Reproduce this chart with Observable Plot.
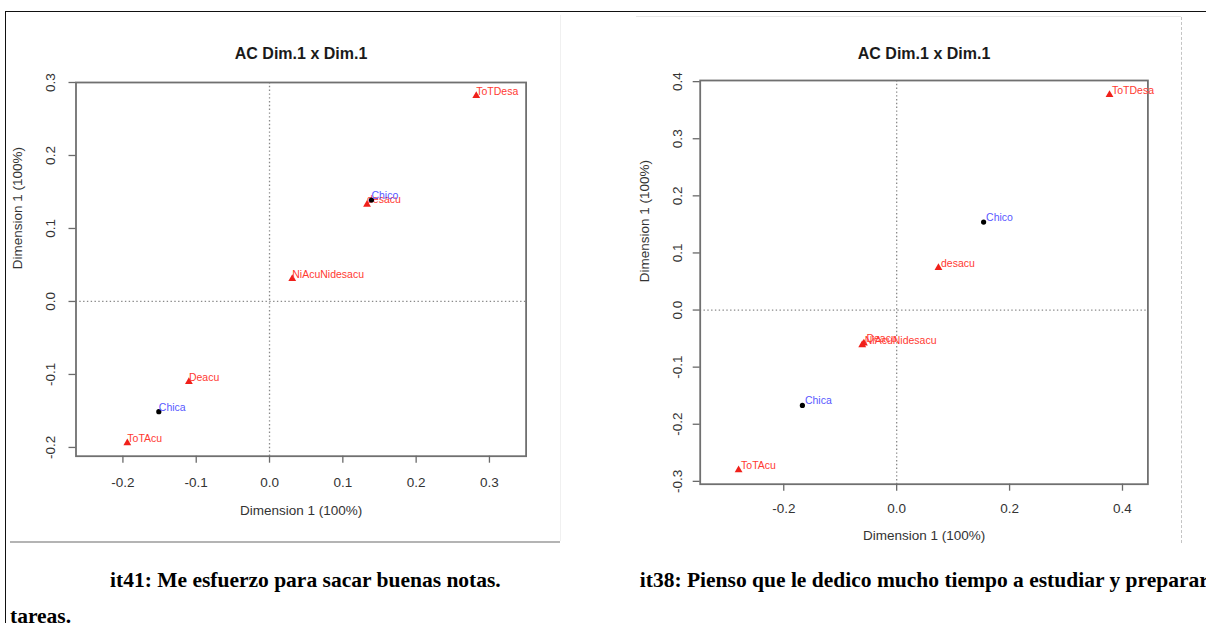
<!DOCTYPE html>
<html>
<head>
<meta charset="utf-8">
<script src="https://cdn.jsdelivr.net/npm/d3@7"></script>
<script src="https://cdn.jsdelivr.net/npm/@observablehq/plot@0.6"></script>
<style>
html, body { margin: 0; padding: 0; background: #fff; overflow: hidden; }
#page { position: relative; width: 1206px; height: 623px; overflow: hidden; background: #fff; }
.abs { position: absolute; }
.cap { position: absolute; font-family: "Liberation Serif", "Times New Roman", Times, serif; font-weight: bold; font-size: 21.5px; line-height: 1; white-space: nowrap; color: #000; }
</style>
</head>
<body>
<div id="page">
  <!-- document frame -->
  <div class="abs" style="left:5px;top:11px;width:1201px;height:0;border-top:1.6px solid #111;"></div>
  <div class="abs" style="left:4.5px;top:11px;width:0;height:612px;border-left:1.6px solid #111;"></div>
  <!-- left image edges -->
  <div class="abs" style="left:560px;top:15px;width:0;height:526px;border-left:1px solid #f0f0f0;"></div>
  <div class="abs" style="left:10px;top:540.5px;width:550px;height:0;border-top:2px solid #b4b4b4;"></div>
  <!-- right image edges -->
  <div class="abs" style="left:636px;top:16px;width:545px;height:0;border-top:1px solid #e8e8e8;"></div>
  <div class="abs" style="left:1180.5px;top:17px;width:0;height:526px;border-left:1.5px dashed #c4c4c4;"></div>

  <div id="left" class="abs" style="left:8px;top:15px;"></div>
  <div id="right" class="abs" style="left:636px;top:16px;"></div>

  <div class="cap" style="left:110px;top:570.3px;">it41: Me esfuerzo para sacar buenas notas.</div>
  <div class="cap" style="left:639.8px;top:570.3px;">it38: Pienso que le dedico mucho tiempo a estudiar y preparar las</div>
  <div class="cap" style="left:10px;top:606px;">tareas.</div>
</div>
<script>
// ---- Data: Dim.1 coordinates (plotted against itself) ----
const chartTitle = "AC Dim.1 x Dim.1";
const axisTitle = "Dimension 1 (100%)";

// it41
const leftLabels = ["ToTDesa", "Chico", "desacu", "NiAcuNidesacu", "Deacu", "Chica", "ToTAcu"];
const leftDim1   = [0.282, 0.139, 0.133, 0.031, -0.110, -0.151, -0.194];
const leftKind   = ["col", "row", "col", "col", "col", "row", "col"];
const leftXTicks = [-0.2, -0.1, 0.0, 0.1, 0.2, 0.3];
const leftYTicks = [-0.2, -0.1, 0.0, 0.1, 0.2, 0.3];

// it38
const rightLabels = ["ToTDesa", "Chico", "desacu", "Deacu", "NiAcuNidesacu", "Chica", "ToTAcu"];
const rightDim1   = [0.377, 0.154, 0.074, -0.058, -0.061, -0.167, -0.280];
const rightKind   = ["col", "row", "col", "col", "col", "row", "col"];
const rightXTicks = [-0.2, 0.0, 0.2, 0.4];
const rightYTicks = [-0.3, -0.2, -0.1, 0.0, 0.1, 0.2, 0.3, 0.4];

const fontFamily = '"Liberation Sans", Arial, Helvetica, sans-serif';
const fmt = d => d.toFixed(1);

function caPlot(o) {
  const rows = o.labels.map((label, i) => ({label, x: o.dim1[i], y: o.dim1[i], kind: o.kind[i]}));
  const cols = rows.filter(d => d.kind === "col");
  const pts = rows.filter(d => d.kind === "row");
  return Plot.plot({
    width: o.width, height: o.height,
    marginLeft: o.ml, marginRight: o.mr, marginTop: o.mt, marginBottom: o.mb,
    style: {fontFamily, background: "transparent", overflow: "hidden"},
    x: {domain: o.xDomain},
    y: {domain: o.yDomain},
    marks: [
      Plot.ruleX([0], {stroke: "#8a8a8a", strokeWidth: 1.3, strokeDasharray: "1.4,2.4"}),
      Plot.ruleY([0], {stroke: "#8a8a8a", strokeWidth: 1.3, strokeDasharray: "1.4,2.4"}),
      Plot.frame({stroke: "#707070", strokeWidth: 1.8}),
      Plot.axisX(o.xTicks, {tickSize: 7, tickPadding: o.xPad, fontSize: 13.5, stroke: "#6a6a6a", strokeWidth: 1.3, fill: "#333", tickFormat: fmt, label: null}),
      Plot.axisY(o.yTicks, {tickSize: 7, tickPadding: o.yPad, tickRotate: -90, fontSize: 13.5, stroke: "#6a6a6a", strokeWidth: 1.3, fill: "#333", tickFormat: fmt, label: null}),
      Plot.text([chartTitle], {frameAnchor: "top", dy: o.titleDy, fontSize: 16, fontWeight: "bold", fill: "#1a1a1a"}),
      Plot.text([axisTitle], {frameAnchor: "bottom", dy: o.xTitleDy, fontSize: 13.5, fill: "#333"}),
      Plot.text([axisTitle], {frameAnchor: "left", dx: o.yTitleDx, rotate: -90, fontSize: 13.5, fill: "#333"}),
      Plot.dot(cols, {x: "x", y: "y", symbol: "triangle", r: 2.9, fill: "#f0201a", stroke: "none"}),
      Plot.text(cols, {x: "x", y: "y", text: "label", textAnchor: "start", lineAnchor: "bottom", dx: o.labelDx, dy: -1, fontSize: 10.5, fill: "#ff3a32"}),
      Plot.dot(pts, {x: "x", y: "y", r: 2.6, fill: "#000", stroke: "none"}),
      Plot.text(pts, {x: "x", y: "y", text: "label", textAnchor: "start", lineAnchor: "bottom", dx: o.labelDx, dy: -1, fontSize: 10.5, fill: "#5858ff"})
    ]
  });
}

document.getElementById("left").appendChild(caPlot({
  labels: leftLabels, dim1: leftDim1, kind: leftKind,
  xTicks: leftXTicks, yTicks: leftYTicks,
  xDomain: [-0.264, 0.350], yDomain: [-0.212, 0.300],
  width: 552, height: 526, ml: 67.5, mr: 34.4, mt: 67, mb: 85.3,
  xPad: 14.3, yPad: 13.6, titleDy: -35, xTitleDy: 58.3, yTitleDx: -58.5, labelDx: 0
}));

document.getElementById("right").appendChild(caPlot({
  labels: rightLabels, dim1: rightDim1, kind: rightKind,
  xTicks: rightXTicks, yTicks: rightYTicks,
  xDomain: [-0.348, 0.445], yDomain: [-0.305, 0.402],
  width: 545, height: 527, ml: 63.7, mr: 33.6, mt: 64, mb: 59.3,
  xPad: 12.6, yPad: 10.8, titleDy: -33, xTitleDy: 55.3, yTitleDx: -55.2, labelDx: 2.5
}));
</script>
</body>
</html>
